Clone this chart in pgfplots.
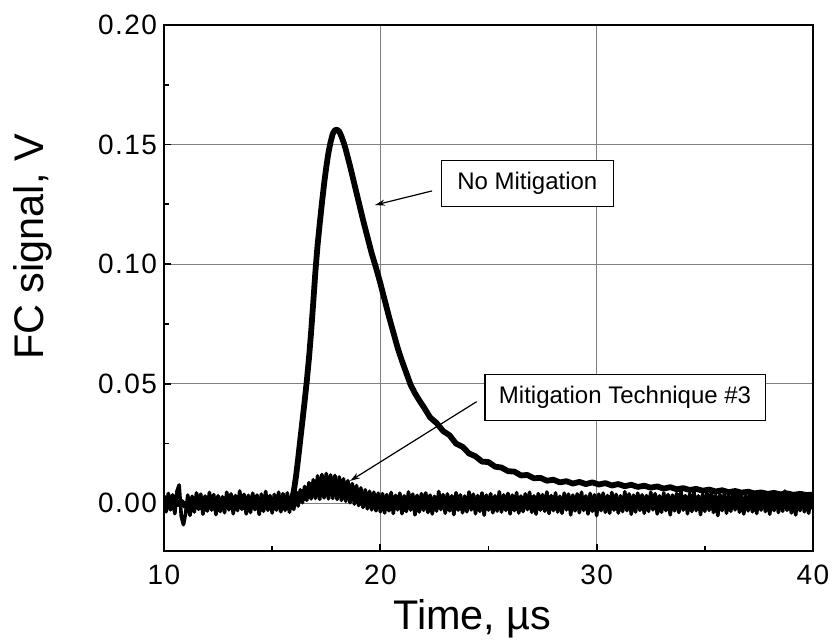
\documentclass[border=0pt]{standalone}
\usepackage{pgfplots}
\pgfplotsset{compat=1.18}
\usepackage{pgfplotstable}
\usepackage{fontspec}
\setmainfont{Liberation Sans}
\usetikzlibrary{arrows.meta}

% Mitigation Technique #3 trace (V)
\pgfplotstableread{
t v
10.0 0.0032
10.1 -0.0036
10.2 0.0041
10.3 -0.0028
10.4 0.0035
10.5 -0.0044
10.6 0.0050
10.7 0.0076
10.8 -0.0055
10.9 -0.0090
11.0 -0.0042
11.1 0.0034
11.2 -0.0051
11.3 0.0029
11.4 -0.0037
11.5 0.0043
11.6 -0.0026
11.7 0.0038
11.8 -0.0046
11.9 0.0030
12.0 -0.0033
12.1 0.0045
12.2 -0.0029
12.3 0.0036
12.4 -0.0048
12.5 0.0031
12.6 -0.0035
12.7 0.0027
12.8 -0.0040
12.9 0.0046
13.0 -0.0028
13.1 0.0039
13.2 -0.0044
13.3 0.0032
13.4 -0.0031
13.5 0.0051
13.6 -0.0026
13.7 0.0037
13.8 -0.0045
13.9 0.0033
14.0 -0.0039
14.1 0.0042
14.2 -0.0027
14.3 0.0034
14.4 -0.0047
14.5 0.0038
14.6 -0.0034
14.7 0.0049
14.8 -0.0030
14.9 0.0032
15.0 -0.0041
15.1 0.0037
15.2 -0.0029
15.3 0.0046
15.4 -0.0036
15.5 0.0040
15.6 -0.0030
15.7 0.0043
15.8 -0.0038
15.9 0.0031
16.0 -0.0026
16.1 0.0048
16.2 -0.0012
16.3 0.0056
16.4 0.0002
16.5 0.0070
16.6 0.0012
16.7 0.0086
16.8 0.0018
16.9 0.0098
17.0 0.0020
17.1 0.0114
17.2 0.0016
17.3 0.0120
17.4 0.0022
17.5 0.0124
17.6 0.0018
17.7 0.0118
17.8 0.0020
17.9 0.0116
18.0 0.0016
18.1 0.0110
18.2 0.0012
18.3 0.0102
18.4 0.0008
18.5 0.0094
18.6 0.0002
18.7 0.0082
18.8 -0.0004
18.9 0.0074
19.0 -0.0010
19.1 0.0064
19.2 -0.0018
19.3 0.0056
19.4 -0.0024
19.5 0.0050
19.6 -0.0028
19.7 0.0046
19.8 -0.0032
19.9 0.0042
20.0 -0.0036
20.1 0.0040
20.2 -0.0041
20.3 0.0036
20.4 -0.0032
20.5 0.0045
20.6 -0.0043
20.7 0.0033
20.8 -0.0028
20.9 0.0042
21.0 -0.0044
21.1 0.0031
21.2 -0.0035
21.3 0.0047
21.4 -0.0029
21.5 0.0038
21.6 -0.0049
21.7 0.0033
21.8 -0.0037
21.9 0.0040
22.0 -0.0030
22.1 0.0043
22.2 -0.0039
22.3 0.0034
22.4 -0.0045
22.5 0.0029
22.6 -0.0033
22.7 0.0049
22.8 -0.0027
22.9 0.0036
23.0 -0.0042
23.1 0.0039
23.2 -0.0032
23.3 0.0031
23.4 -0.0048
23.5 0.0044
23.6 -0.0029
23.7 0.0035
23.8 -0.0040
23.9 0.0030
24.0 -0.0036
24.1 0.0047
24.2 -0.0028
24.3 0.0038
24.4 -0.0044
24.5 0.0032
24.6 -0.0034
24.7 0.0043
24.8 -0.0050
24.9 0.0034
25.0 -0.0029
25.1 0.0040
25.2 -0.0040
25.3 0.0031
25.4 -0.0033
25.5 0.0048
25.6 -0.0037
25.7 0.0035
25.8 -0.0030
25.9 0.0041
26.0 -0.0045
26.1 0.0034
26.2 -0.0031
26.3 0.0044
26.4 -0.0041
26.5 0.0030
26.6 -0.0035
26.7 0.0039
26.8 -0.0027
26.9 0.0046
27.0 -0.0038
27.1 0.0031
27.2 -0.0046
27.3 0.0040
27.4 -0.0029
27.5 0.0036
27.6 -0.0034
27.7 0.0047
27.8 -0.0043
27.9 0.0032
28.0 -0.0031
28.1 0.0043
28.2 -0.0037
28.3 0.0029
28.4 -0.0042
28.5 0.0042
28.6 -0.0028
28.7 0.0038
28.8 -0.0049
28.9 0.0034
29.0 -0.0032
29.1 0.0039
29.2 -0.0040
29.3 0.0046
29.4 -0.0030
29.5 0.0031
29.6 -0.0045
29.7 0.0041
29.8 -0.0034
29.9 0.0035
30.0 -0.0052
30.1 0.0038
30.2 -0.0031
30.3 0.0042
30.4 -0.0038
30.5 0.0032
30.6 -0.0042
30.7 0.0045
30.8 -0.0029
30.9 0.0037
31.0 -0.0041
31.1 0.0031
31.2 -0.0035
31.3 0.0048
31.4 -0.0031
31.5 0.0039
31.6 -0.0046
31.7 0.0034
31.8 -0.0037
31.9 0.0042
32.0 -0.0030
32.1 0.0035
32.2 -0.0042
32.3 0.0032
32.4 -0.0034
32.5 0.0046
32.6 -0.0028
32.7 0.0040
32.8 -0.0045
32.9 0.0031
33.0 -0.0038
33.1 0.0043
33.2 -0.0031
33.3 0.0036
33.4 -0.0049
33.5 0.0034
33.6 -0.0032
33.7 0.0041
33.8 -0.0039
33.9 0.0050
34.0 -0.0029
34.1 0.0032
34.2 -0.0044
34.3 0.0039
34.4 -0.0035
34.5 0.0045
34.6 -0.0031
34.7 0.0031
34.8 -0.0048
34.9 0.0038
35.0 -0.0034
35.1 0.0041
35.2 -0.0030
35.3 0.0047
35.4 -0.0039
35.5 0.0034
35.6 -0.0052
35.7 0.0036
35.8 -0.0031
35.9 0.0042
36.0 -0.0042
36.1 0.0032
36.2 -0.0034
36.3 0.0040
36.4 -0.0028
36.5 0.0046
36.6 -0.0038
36.7 0.0035
36.8 -0.0045
36.9 0.0031
37.0 -0.0032
37.1 0.0049
37.2 -0.0036
37.3 0.0034
37.4 -0.0043
37.5 0.0039
37.6 -0.0029
37.7 0.0043
37.8 -0.0035
37.9 0.0036
38.0 -0.0046
38.1 0.0031
38.2 -0.0031
38.3 0.0042
38.4 -0.0039
38.5 0.0035
38.6 -0.0034
38.7 0.0051
38.8 -0.0030
38.9 0.0034
39.0 -0.0041
39.1 0.0038
39.2 -0.0049
39.3 0.0032
39.4 -0.0031
39.5 0.0043
39.6 -0.0036
39.7 0.0039
39.8 -0.0042
39.9 0.0030
40.0 -0.0025
}\mitig

% No Mitigation trace (V)
\pgfplotstableread{
t v
10.0 0.0004
10.2 -0.0008
10.4 0.0010
10.6 -0.0005
10.8 0.0006
11.0 -0.0012
11.2 0.0008
11.4 -0.0004
11.6 0.0011
11.8 -0.0007
12.0 0.0005
12.2 -0.0010
12.4 0.0009
12.6 -0.0003
12.8 0.0007
13.0 -0.0009
13.2 0.0012
13.4 -0.0005
13.6 0.0006
13.8 -0.0011
14.0 0.0008
14.2 -0.0004
14.4 0.0010
14.6 -0.0006
14.8 0.0007
15.0 -0.0010
15.2 0.0009
15.4 -0.0003
15.6 0.0008
15.8 0.0002
15.9 0.0012
16.0 0.0050
16.1 0.0110
16.2 0.0185
16.3 0.0265
16.4 0.0345
16.5 0.0425
16.6 0.0510
16.7 0.0605
16.8 0.0715
16.9 0.0840
17.0 0.0970
17.1 0.1080
17.2 0.1170
17.3 0.1255
17.4 0.1335
17.5 0.1405
17.6 0.1465
17.7 0.1510
17.8 0.1545
17.9 0.1560
18.0 0.1562
18.1 0.1555
18.2 0.1535
18.3 0.1510
18.4 0.1480
18.5 0.1445
18.6 0.1410
18.8 0.1335
19.0 0.1260
19.2 0.1185
19.4 0.1115
19.6 0.1045
19.8 0.0985
20.0 0.0920
20.2 0.0850
20.4 0.0780
20.6 0.0715
20.8 0.0650
21.0 0.0595
21.2 0.0545
21.4 0.0495
21.6 0.0460
21.8 0.0430
22.0 0.0403
22.3 0.0359
22.6 0.0335
22.9 0.0302
23.2 0.0284
23.5 0.0249
23.8 0.0236
24.1 0.0208
24.4 0.0196
24.7 0.0174
25.0 0.0172
25.3 0.0153
25.6 0.0149
25.9 0.0134
26.2 0.0132
26.5 0.0116
26.8 0.0118
27.1 0.0104
27.4 0.0106
27.7 0.0094
28.0 0.0098
28.3 0.0087
28.6 0.0092
28.9 0.0082
29.2 0.0089
29.5 0.0080
29.8 0.0087
30.1 0.0078
30.4 0.0084
30.7 0.0074
31.0 0.0080
31.3 0.0071
31.6 0.0077
31.9 0.0068
32.2 0.0073
32.5 0.0065
32.8 0.0070
33.1 0.0061
33.4 0.0067
33.7 0.0058
34.0 0.0063
34.3 0.0055
34.6 0.0060
34.9 0.0052
35.2 0.0057
35.5 0.0049
35.8 0.0054
36.1 0.0046
36.4 0.0051
36.7 0.0044
37.0 0.0048
37.3 0.0041
37.6 0.0045
37.9 0.0039
38.2 0.0043
38.5 0.0037
38.8 0.0041
39.1 0.0035
39.4 0.0039
39.7 0.0034
40.0 0.0036
}\nomitig

\begin{document}
\begin{tikzpicture}
\begin{axis}[
  width=324.5pt, height=263pt, scale only axis,
  xmin=10, xmax=40, ymin=-0.02, ymax=0.20,
  xtick={10,20,30,40}, ytick={0,0.05,0.10,0.15,0.20},
  minor x tick num=1, minor y tick num=1,
  tick align=inside, xtick pos=left, ytick pos=left,
  major tick length=3.5pt, minor tick length=2.5pt,
  every tick/.style={black, line width=0.9pt},
  axis line style={line width=1.3pt},
  grid=major, major grid style={gray, line width=0.5pt},
  scaled y ticks=false,
  /pgf/number format/assume math mode=true,
  tick label style={font=\fontsize{14}{16}\selectfont\addfontfeature{LetterSpace=5}},
  xticklabel style={yshift=-3.5pt},
  yticklabel style={xshift=0pt, /pgf/number format/fixed,
    /pgf/number format/fixed zerofill, /pgf/number format/precision=2},
  xlabel={Time, µs}, ylabel={FC signal, V},
  label style={font=\fontsize{20.7}{24}\selectfont},
  xlabel style={at={(axis description cs:0.475,-0.150)}, anchor=base},
  ylabel style={at={(axis description cs:-0.186,0.578)}, anchor=base},
]
\addplot[black, line width=1.8pt, line join=round] table[x=t, y=v] {\mitig};
\addplot[black, line width=2.9pt, line join=round] table[x=t, y=v] {\nomitig};

\node[draw, line width=0.6pt, fill=white, anchor=west, inner xsep=8pt,
      minimum height=23pt, font=\fontsize{12}{14}\selectfont]
  at (axis cs:22.79,0.1336) {No Mitigation};
\draw[-{Stealth[length=5pt,width=3pt]}, line width=0.6pt]
  (axis cs:22.39,0.1306) -- (axis cs:19.75,0.1247);

\node[draw, line width=0.6pt, fill=white, anchor=west, inner xsep=7pt,
      minimum height=23pt, font=\fontsize{12}{14}\selectfont]
  at (axis cs:24.81,0.0443) {Mitigation Technique \#3};
\draw[-{Stealth[length=5pt,width=3pt]}, line width=0.6pt]
  (axis cs:24.45,0.04245) -- (axis cs:18.60,0.0093);
\end{axis}
\pgfresetboundingbox
\path[use as bounding box] ([shift={(-82pt,-44pt)}]current axis.south west)
  rectangle ([shift={(9.5pt,12.5pt)}]current axis.north east);
\end{tikzpicture}
\end{document}
